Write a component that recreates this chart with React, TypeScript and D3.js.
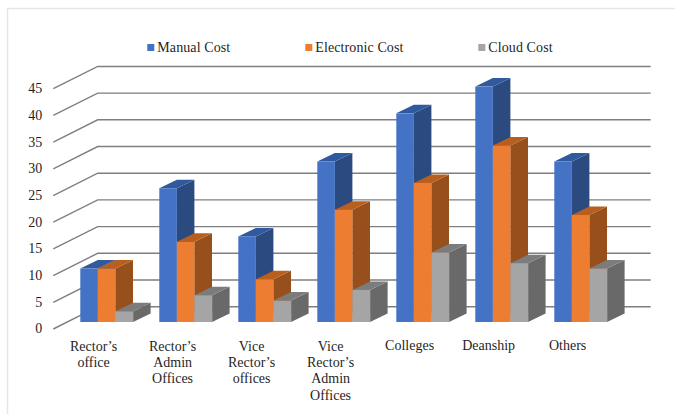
import React from "react";
import * as d3 from "d3";

const categories: string[][] = [
  ["Rector’s", "office"],
  ["Rector’s", "Admin", "Offices"],
  ["Vice", "Rector’s", "offices"],
  ["Vice", "Rector’s", "Admin", "Offices"],
  ["Colleges"],
  ["Deanship"],
  ["Others"],
];
const manualCost = [10, 25, 16, 30, 39, 44, 30];
const electronicCost = [10, 15, 8, 21, 26, 33, 20];
const cloudCost = [2, 5, 4, 6, 13, 11, 10];
const yTicks = [0, 5, 10, 15, 20, 25, 30, 35, 40, 45];

const series = [
  { name: "Manual Cost", values: manualCost, front: "#4472C4", side: "#2A4A80", top: "#315A9E", legendX: 147.3 },
  { name: "Electronic Cost", values: electronicCost, front: "#ED7D31", side: "#97501C", top: "#B85F1F", legendX: 305.3 },
  { name: "Cloud Cost", values: cloudCost, front: "#A5A5A5", side: "#696969", top: "#7C7C7C", legendX: 478.3 },
];

const FONT = "'Liberation Serif', 'Times New Roman', serif";
const TEXT = "#1F1F1F";
const FONT_SIZE = 14;
const W = 675;
const H = 414;

// Oblique projection: the floor runs from the front-left corner back to the wall.
const frontBase = 322;
const unit = 5.35;
const barW = 17.6;
const depthX = 17.5;
const depthY = 8.5;
const wallX = 97.7;
const wallBase = 306.7;
const tickX = 53.3;
const tickBase = 329;
const gridEnd = 650.7;
const groupStart = 80.3;
const groupStep = 79;

const yFront = d3.scaleLinear().domain([0, 1]).range([frontBase, frontBase - unit]);
const yWall = d3.scaleLinear().domain([0, 1]).range([wallBase, wallBase - unit * 0.998]);
const yTick = d3.scaleLinear().domain([0, 1]).range([tickBase, tickBase - unit * 0.998]);

const groupScale = d3
  .scaleBand<number>()
  .domain(d3.range(categories.length))
  .range([groupStart, groupStart + groupStep * categories.length]);
const barOffset = d3.scaleBand<number>().domain([0, 1, 2]).range([0, barW * 3]);

const poly = (pts: [number, number][]) => pts.map((p) => p.join(",")).join(" ");

export default function App() {
  return (
    <svg
      width={W}
      height={H}
      viewBox={`0 0 ${W} ${H}`}
      style={{ position: "absolute", left: 0, top: 0, background: "#fff" }}
    >
      <path d={`M7.5 ${H} V8.5 H${W}`} fill="none" stroke="#E6E6E6" strokeWidth={1.5} />

      {series.map((s) => (
        <g key={s.name}>
          <rect x={s.legendX} y={44} width={7} height={7} fill={s.front} />
          <text
            x={s.legendX + 10}
            y={51.7}
            fontFamily={FONT}
            fontSize={FONT_SIZE}
            letterSpacing={0.1}
            fill={TEXT}
          >
            {s.name}
          </text>
        </g>
      ))}

      {yTicks.map((t) => (
        <g key={t}>
          <polyline
            points={poly([
              [tickX, yTick(t)],
              [wallX, yWall(t)],
              [gridEnd, yWall(t)],
            ])}
            fill="none"
            stroke="#7F7F7F"
            strokeWidth={1.4}
          />
          <text
            x={42.3}
            y={yTick(t) + 4.4}
            textAnchor="end"
            fontFamily={FONT}
            fontSize={FONT_SIZE}
            fill={TEXT}
          >
            {t}
          </text>
        </g>
      ))}

      {categories.map((lines, i) => {
        const gx = groupScale(i)!;
        const cx = gx + 13.3;
        return (
          <g key={i}>
            {series.map((s, j) => {
              const x0 = gx + barOffset(j)!;
              const x1 = x0 + barW;
              const y0 = yFront(0);
              const y1 = yFront(s.values[i]);
              return (
                <g key={s.name}>
                  <polygon
                    points={poly([
                      [x1, y0],
                      [x1 + depthX, y0 - depthY],
                      [x1 + depthX, y1 - depthY],
                      [x1, y1],
                    ])}
                    fill={s.side}
                  />
                  <polygon
                    points={poly([
                      [x0, y1],
                      [x0 + depthX, y1 - depthY],
                      [x1 + depthX, y1 - depthY],
                      [x1, y1],
                    ])}
                    fill={s.top}
                  />
                  <rect x={x0} y={y1} width={barW} height={y0 - y1} fill={s.front} />
                </g>
              );
            })}
            <text textAnchor="middle" fontFamily={FONT} fontSize={FONT_SIZE} fill={TEXT}>
              {lines.map((l, k) => (
                <tspan key={k} x={cx} y={(lines.length === 1 ? 350 : 350.7) + k * 16.3}>
                  {l}
                </tspan>
              ))}
            </text>
          </g>
        );
      })}
    </svg>
  );
}
